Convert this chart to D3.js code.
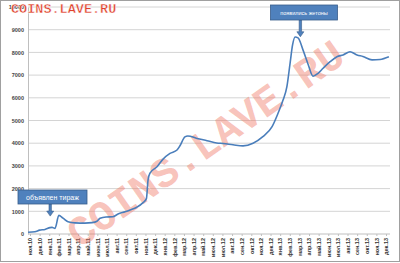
<!DOCTYPE html>
<html>
<head>
<meta charset="utf-8">
<script src="https://cdn.jsdelivr.net/npm/d3@7"></script>
<style>
  body { margin: 0; background: #fff; }
  svg { display: block; }
</style>
</head>
<body>
<div id="chart"></div>
<script>
// month labels on the category axis
const monthLabels = [
    'ноя.10', 'дек.10',
    'янв.11', 'фев.11', 'мар.11', 'апр.11', 'май.11', 'июн.11',
    'июл.11', 'авг.11', 'сен.11', 'окт.11', 'ноя.11', 'дек.11',
    'янв.12', 'фев.12', 'мар.12', 'апр.12', 'май.12', 'июн.12',
    'июл.12', 'авг.12', 'сен.12', 'окт.12', 'ноя.12', 'дек.12',
    'янв.13', 'фев.13', 'мар.13', 'апр.13', 'май.13', 'июн.13',
    'июл.13', 'авг.13', 'сен.13', 'окт.13', 'ноя.13', 'дек.13'
];
// position in months (0 = ноя.10) and price
const priceMonth = [
    -0.2, 0.5, 1.0, 1.56, 2.08, 2.29, 2.6, 3.0, 3.43, 3.95, 4.68, 5.7, 6.45,
    6.96, 7.28, 7.9, 8.6, 9.15, 9.88, 10.4, 11.1, 11.75, 12.1, 12.27, 12.47,
    13.2, 13.83, 14.55, 15.28, 15.6, 16.1, 16.4, 17.36, 18.4, 19.4, 20.06,
    21.1, 22.14, 23.18, 24.2, 25.16, 25.78, 26.3, 26.7, 27.03, 27.29, 27.55,
    27.86, 28.38, 28.9, 29.42, 29.94, 30.46, 31.19, 31.9, 32.54, 33.26,
    33.99, 34.6, 35.55, 36.38, 37.3
];
const priceValue = [
    80, 100, 170, 200, 280, 290, 250, 820, 700, 540, 490, 480, 500,
    560, 690, 750, 760, 880, 980, 1060, 1180, 1380, 1560, 2380, 2680,
    2960, 3300, 3550, 3700, 3900, 4280, 4320, 4210, 4110, 4010, 3990,
    3930, 3880, 4000, 4290, 4730, 5320, 5900, 6490, 7520, 8330, 8680,
    8640, 8100, 7480, 6950, 7080, 7300, 7590, 7810, 7890, 8030,
    7890, 7820, 7670, 7690, 7810
];
const yTicks = [0, 1000, 2000, 3000, 4000, 5000, 6000, 7000, 8000, 9000, 10000];
// callouts: text and the point the arrow goes to
const notes = [
    {text: 'объявлен тираж', month: 2.1, value: 700},
    {text: 'появились жетоны', month: 28.1, value: 8600}
];

const width = 400, height = 263;
const svg = d3.select('#chart').append('svg')
    .attr('width', width)
    .attr('height', height);

const x = d3.scaleLinear().domain([0, 37]).range([30, 386]);
const y = d3.scaleLinear().domain([0, 10000]).range([234, 7]);
const plotLeft = 28, plotRight = 390;

// grid
svg.append('g').selectAll('line')
    .data(yTicks.slice(1))
    .join('line')
    .attr('x1', plotLeft).attr('x2', plotRight)
    .attr('y1', d => y(d)).attr('y2', d => y(d))
    .attr('stroke', '#d4d4d4')
    .attr('stroke-width', 1);

// y axis
const yAxis = svg.append('g')
    .attr('transform', `translate(${plotLeft},0)`)
    .call(d3.axisLeft(y).tickValues(yTicks).tickSize(0).tickPadding(4).tickFormat(d3.format('d')));
yAxis.select('.domain').attr('stroke', '#bfbfbf');
yAxis.selectAll('text')
    .attr('font-family', 'Arial, "Liberation Sans", sans-serif')
    .attr('font-size', 5.5)
    .attr('font-weight', 'bold')
    .attr('fill', '#444');

// x axis
const xAxis = svg.append('g')
    .attr('transform', `translate(0,${y(0)})`)
    .call(d3.axisBottom(x).tickValues(d3.range(monthLabels.length))
        .tickSize(2).tickFormat(i => monthLabels[i]));
xAxis.select('.domain').attr('d', `M${plotLeft},0H${plotRight}`).attr('stroke', '#bfbfbf');
xAxis.selectAll('.tick line').attr('stroke', '#bfbfbf');
xAxis.selectAll('text')
    .attr('font-family', 'Arial, "Liberation Sans", sans-serif')
    .attr('font-size', 5.5)
    .attr('font-weight', 'bold')
    .attr('fill', '#333')
    .attr('text-anchor', 'end')
    .attr('dy', '0.32em')
    .attr('transform', 'translate(0,4) rotate(-90)')
    .attr('x', -0).attr('y', 0);

// big diagonal watermark
svg.append('text')
    .attr('transform', 'translate(207,146) rotate(-35)')
    .attr('text-anchor', 'middle')
    .attr('dominant-baseline', 'middle')
    .attr('font-family', '"Liberation Mono", "DejaVu Sans Mono", monospace')
    .attr('font-weight', 'bold')
    .attr('font-size', 42)
    .attr('fill', '#f07a66')
    .attr('fill-opacity', 0.45)
    .text('COINS.LAVE.RU');

// price line
const pts = priceMonth.map((m, i) => [m, priceValue[i]]);
svg.append('path')
    .datum(pts)
    .attr('d', d3.line().x(d => x(d[0])).y(d => y(d[1])).curve(d3.curveMonotoneX))
    .attr('fill', 'none')
    .attr('stroke', '#4a7ebb')
    .attr('stroke-width', 1.6);

// callouts
const boxes = [
    {w: 69, h: 14, cx: 52.5, top: 190},
    {w: 67, h: 15, cx: 304, top: 5}
];
notes.forEach((n, i) => {
    const b = boxes[i];
    const g = svg.append('g');
    const ax = x(n.month), tipY = y(n.value) - 2;
    g.append('path')
        .attr('d', `M${ax - 1.2},${b.top + b.h} V${tipY - 5} H${ax - 3.5} L${ax},${tipY} L${ax + 3.5},${tipY - 5} H${ax + 1.2} V${b.top + b.h} Z`)
        .attr('fill', '#4f81bd')
        .attr('stroke', '#385d8a')
        .attr('stroke-width', 0.6);
    g.append('rect')
        .attr('x', b.cx - b.w / 2).attr('y', b.top)
        .attr('width', b.w).attr('height', b.h)
        .attr('fill', '#4f81bd')
        .attr('stroke', '#385d8a')
        .attr('stroke-width', 0.8);
    g.append('text')
        .attr('x', b.cx).attr('y', b.top + b.h / 2)
        .attr('text-anchor', 'middle')
        .attr('dominant-baseline', 'central')
        .attr('font-family', 'Arial, "Liberation Sans", sans-serif')
        .attr('font-size', i === 0 ? 7 : 5.5)
        .attr('fill', '#fff')
        .text(n.text);
});

// small watermark top-left
svg.append('text')
    .attr('x', 11).attr('y', 13)
    .attr('font-family', '"Liberation Mono", "DejaVu Sans Mono", monospace')
    .attr('font-weight', 'bold')
    .attr('font-size', 13.5)
    .attr('fill', '#e0412c')
    .attr('stroke', '#fff')
    .attr('stroke-width', 0.4)
    .text('COINS.LAVE.RU');

// frame
svg.append('rect')
    .attr('x', 0.5).attr('y', 0.5)
    .attr('width', width - 1).attr('height', height - 2)
    .attr('fill', 'none')
    .attr('stroke', '#a0a0a0');
</script>
</body>
</html>
